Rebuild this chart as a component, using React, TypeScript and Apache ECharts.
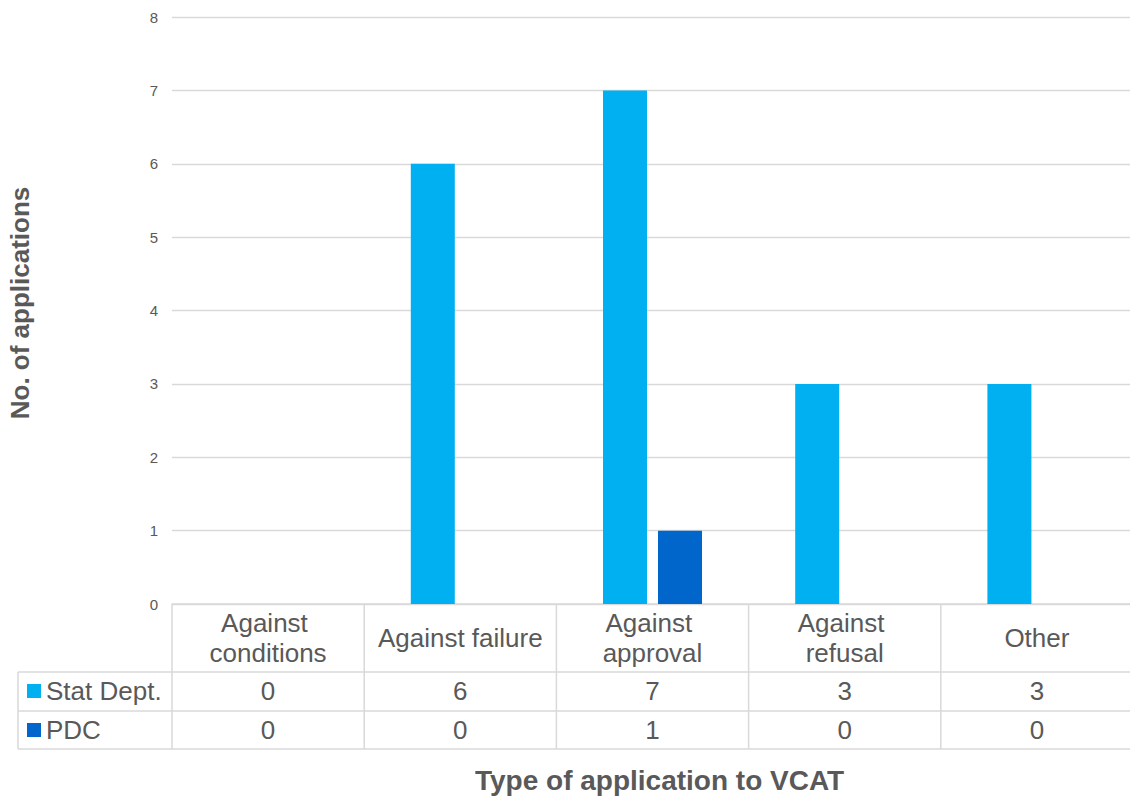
import React, { useEffect, useRef } from "react";
import * as echarts from "echarts";

const categories = ["Against conditions", "Against failure", "Against approval", "Against refusal", "Other"];
const statDept = [0, 6, 7, 3, 3];
const pdc = [0, 0, 1, 0, 0];
const seriesNames = ["Stat Dept.", "PDC"];
const colors = ["#00B0F0", "#0066CC"];
const yTitle = "No. of applications";
const xTitle = "Type of application to VCAT";

const FONT = "'Liberation Sans', Arial, sans-serif";
const TXT = "#595959";
const LINE = "#D9D9D9";

export default function App() {
  const ref = useRef<HTMLDivElement>(null);
  useEffect(() => {
    document.body.style.margin = "0";
    const chart = echarts.init(ref.current!, null, { renderer: "svg" });
    const n = categories.length;
    const lineStyle = { stroke: LINE, lineWidth: 1.5 };
    const option: any = {
      animation: false,
      backgroundColor: "#ffffff",
      textStyle: { fontFamily: FONT },
      grid: { left: 172, width: 961, top: 17, height: 587, containLabel: false, outerBoundsMode: "none" },
      xAxis: {
        type: "category",
        data: categories,
        axisLine: { show: true, lineStyle: { color: LINE, width: 1.5 } },
        axisTick: { show: false },
        axisLabel: { show: false },
        splitLine: { show: false },
      },
      yAxis: {
        type: "value",
        min: 0,
        max: 8,
        interval: 1,
        name: yTitle,
        nameLocation: "middle",
        nameGap: 139,
        nameTextStyle: { color: TXT, fontSize: 26, fontWeight: "bold", fontFamily: FONT, padding: [0, 0, 0, 15] },
        axisLine: { show: false },
        axisTick: { show: false },
        axisLabel: { color: TXT, fontSize: 15, margin: 14, fontFamily: FONT },
        splitLine: { lineStyle: { color: LINE, width: 1.3 } },
      },
      series: [
        {
          name: seriesNames[0],
          type: "bar",
          data: statDept,
          barWidth: 44,
          barGap: "25%",
          itemStyle: { color: colors[0] },
        },
        {
          name: seriesNames[1],
          type: "bar",
          data: pdc,
          barWidth: 44,
          barGap: "25%",
          itemStyle: { color: colors[1] },
        },
        {
          type: "custom",
          silent: true,
          clip: false,
          z: 5,
          data: categories.map((_, i) => [i, 0, statDept[i], pdc[i]]),
          renderItem: (params: any, api: any) => {
            const i = api.value(0);
            const pt = api.coord([i, 0]);
            const cx = pt[0];
            const y0 = pt[1];
            const bw = api.size([1, 0])[0];
            const left = cx - bw / 2;
            const right = cx + bw / 2;
            const children: any[] = [
              { type: "line", shape: { x1: left, y1: y0, x2: left, y2: y0 + 145 }, style: lineStyle },
              { type: "line", shape: { x1: left, y1: y0 + 68, x2: right, y2: y0 + 68 }, style: lineStyle },
              { type: "line", shape: { x1: left, y1: y0 + 107, x2: right, y2: y0 + 107 }, style: lineStyle },
              { type: "line", shape: { x1: left, y1: y0 + 145, x2: right, y2: y0 + 145 }, style: lineStyle },
              {
                type: "text",
                style: {
                  x: cx,
                  y: y0 + 34,
                  text: categories[i],
                  width: 166,
                  overflow: "break",
                  align: "center",
                  verticalAlign: "middle",
                  lineHeight: 30,
                  fontSize: 26,
                  fontFamily: FONT,
                  fill: TXT,
                },
              },
              {
                type: "text",
                style: {
                  x: cx,
                  y: y0 + 87,
                  text: String(api.value(2)),
                  align: "center",
                  verticalAlign: "middle",
                  fontSize: 26,
                  fontFamily: FONT,
                  fill: TXT,
                },
              },
              {
                type: "text",
                style: {
                  x: cx,
                  y: y0 + 126,
                  text: String(api.value(3)),
                  align: "center",
                  verticalAlign: "middle",
                  fontSize: 26,
                  fontFamily: FONT,
                  fill: TXT,
                },
              },
            ];
            if (i === n - 1) {
              children.push({ type: "line", shape: { x1: right, y1: y0, x2: right, y2: y0 + 145 }, style: lineStyle });
            }
            if (i === 0) {
              const lx = 18;
              children.push(
                { type: "line", shape: { x1: lx, y1: y0 + 68, x2: left, y2: y0 + 68 }, style: lineStyle },
                { type: "line", shape: { x1: lx, y1: y0 + 107, x2: left, y2: y0 + 107 }, style: lineStyle },
                { type: "line", shape: { x1: lx, y1: y0 + 145, x2: left, y2: y0 + 145 }, style: lineStyle },
                { type: "line", shape: { x1: lx, y1: y0 + 68, x2: lx, y2: y0 + 145 }, style: lineStyle },
                { type: "rect", shape: { x: 27, y: y0 + 80, width: 14, height: 14 }, style: { fill: colors[0] } },
                { type: "rect", shape: { x: 27, y: y0 + 119, width: 14, height: 14 }, style: { fill: colors[1] } },
                {
                  type: "text",
                  style: { x: 46, y: y0 + 87, text: seriesNames[0], align: "left", verticalAlign: "middle", fontSize: 26, fontFamily: FONT, fill: TXT },
                },
                {
                  type: "text",
                  style: { x: 46, y: y0 + 126, text: seriesNames[1], align: "left", verticalAlign: "middle", fontSize: 26, fontFamily: FONT, fill: TXT },
                }
              );
            }
            return { type: "group", children };
          },
        },
      ],
      graphic: [
        {
          type: "text",
          left: 475,
          top: 766,
          style: { text: xTitle, fontSize: 28, fontWeight: "bold", fontFamily: FONT, fill: TXT },
        },
      ],
    };
    chart.setOption(option);
    return () => chart.dispose();
  }, []);
  return <div ref={ref} style={{ position: "absolute", left: 0, top: 0, width: 1130, height: 798 }} />;
}
